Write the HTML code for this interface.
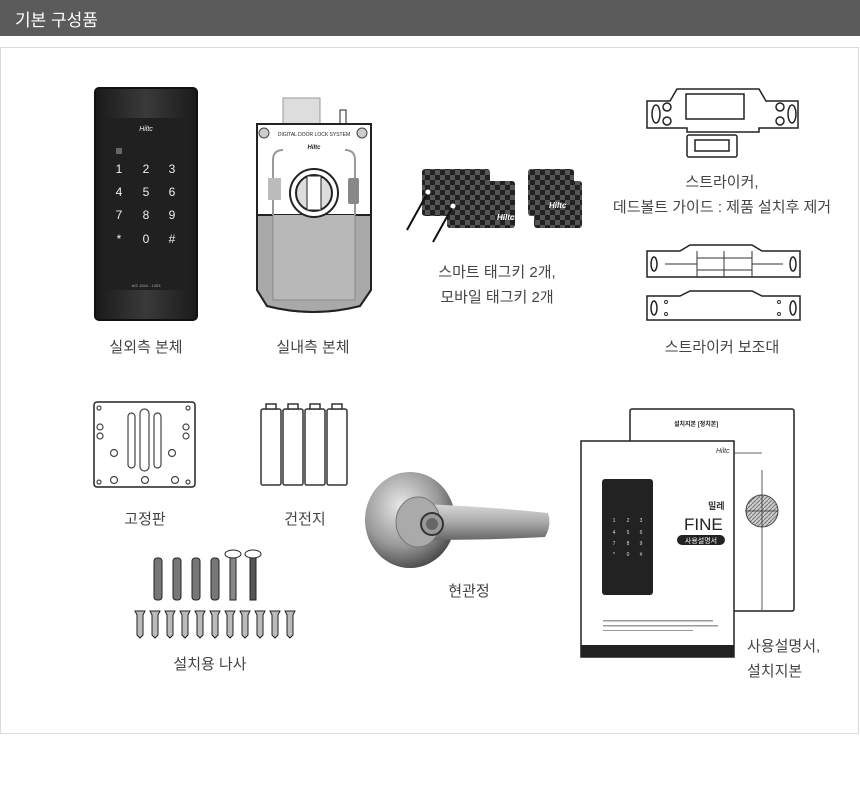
<!DOCTYPE html>
<html><head><meta charset="utf-8">
<style>
html,body{margin:0;padding:0;background:#fff;}
body{width:860px;height:791px;overflow:hidden;position:relative;font-family:"Liberation Sans","Noto Sans CJK KR",sans-serif;}
.hd{position:absolute;left:0;top:0;width:860px;height:36px;background:#5b5b5b;}
.hd span{position:absolute;left:15px;top:6px;color:#fff;font-size:17px;font-family:"Liberation Sans","Noto Sans CJK KR",sans-serif;}
.box{position:absolute;left:0;top:47px;width:857px;height:685px;border:1px solid #dadada;}
svg{position:absolute;left:0;top:0;}
.l{font-family:"Liberation Sans","Noto Sans CJK KR",sans-serif;font-size:15px;fill:#444;}
</style></head><body>
<div class="hd"><span>기본 구성품</span></div>
<div class="box"></div>
<svg width="860" height="791" viewBox="0 0 860 791">
<defs>
<linearGradient id="lk" x1="0" x2="1"><stop offset="0" stop-color="#1a1a1a"/><stop offset=".5" stop-color="#3a3a3a"/><stop offset="1" stop-color="#1a1a1a"/></linearGradient>
<radialGradient id="kn" cx=".4" cy=".35" r=".7"><stop offset="0" stop-color="#e8e8e8"/><stop offset=".6" stop-color="#999"/><stop offset="1" stop-color="#444"/></radialGradient>
<linearGradient id="lv" x1="0" y1="0" x2="0" y2="1"><stop offset="0" stop-color="#d8d8d8"/><stop offset=".5" stop-color="#aaa"/><stop offset="1" stop-color="#666"/></linearGradient>
<pattern id="ck" width="10" height="10" patternUnits="userSpaceOnUse"><rect width="10" height="10" fill="#555"/><rect width="5" height="5" fill="#222"/><rect x="5" y="5" width="5" height="5" fill="#222"/></pattern>
<pattern id="ht" width="4" height="4" patternUnits="userSpaceOnUse"><rect width="4" height="4" fill="#ccc"/><path d="M0 4L4 0" stroke="#777" stroke-width="1"/></pattern>
</defs>

<rect x="95" y="88" width="102" height="232" rx="4" fill="url(#lk)" stroke="#111" stroke-width="2"/>
<rect x="103" y="118" width="86" height="172" fill="#202020"/>
<g fill="#eee" font-size="12" font-family="Liberation Sans,sans-serif" text-anchor="middle">
<text x="119" y="173">1</text><text x="146" y="173">2</text><text x="172" y="173">3</text>
<text x="119" y="196">4</text><text x="146" y="196">5</text><text x="172" y="196">6</text>
<text x="119" y="219">7</text><text x="146" y="219">8</text><text x="172" y="219">9</text>
<text x="119" y="243">*</text><text x="146" y="243">0</text><text x="172" y="243">#</text>
<text x="146" y="131" font-size="7" font-style="italic">Hiltc</text>
<text x="146" y="287" font-size="4" fill="#aaa">A/S 1544 - 1303</text>
</g>
<rect x="116" y="148" width="6" height="6" fill="#666"/>

<rect x="283" y="98" width="37" height="30" fill="#ddd" stroke="#999"/>
<rect x="340" y="110" width="6" height="16" fill="#fff" stroke="#222"/>
<path d="M257 124H371V290L360 306Q313 318 267 306L257 290Z" fill="#fff" stroke="#222" stroke-width="2"/>
<path d="M257 215H371V290L360 306Q313 318 267 306L257 290Z" fill="#a9a9a9" stroke="#222" stroke-width="2"/>
<path d="M273 215V300H355V215" fill="#b8b8b8" stroke="#888"/>
<path d="M273 215V160Q273 150 283 150M355 215V160Q355 150 345 150" fill="none" stroke="#999" stroke-width="2"/>
<circle cx="314" cy="193" r="24" fill="#fff" stroke="#222" stroke-width="2"/>
<circle cx="314" cy="193" r="18" fill="#ddd" stroke="#222" stroke-width="2"/>
<rect x="307" y="176" width="14" height="34" fill="#fff" stroke="#222"/>
<circle cx="264" cy="133" r="5" fill="#ccc" stroke="#444"/><circle cx="362" cy="133" r="5" fill="#ccc" stroke="#444"/>
<text x="314" y="136" font-size="5" text-anchor="middle" font-family="Liberation Sans,sans-serif" fill="#222">DIGITAL DOOR LOCK SYSTEM</text>
<text x="314" y="149" font-size="6" font-style="italic" text-anchor="middle" font-family="Liberation Sans,sans-serif" fill="#222" font-weight="bold">Hiltc</text>
<rect x="268" y="178" width="13" height="22" fill="#bbb"/><rect x="348" y="178" width="11" height="26" fill="#888" rx="2"/>

<rect x="422" y="169" width="68" height="47" rx="3" fill="url(#ck)"/>
<rect x="447" y="181" width="68" height="47" rx="3" fill="url(#ck)"/>
<rect x="528" y="169" width="46" height="47" rx="3" fill="url(#ck)"/>
<rect x="534" y="181" width="48" height="47" rx="3" fill="url(#ck)"/>
<path d="M428 192L407 230M453 206L433 242" stroke="#111" stroke-width="2" fill="none"/>
<circle cx="428" cy="192" r="2.5" fill="#fff"/><circle cx="453" cy="206" r="2.5" fill="#fff"/>
<text x="497" y="220" font-size="8" font-style="italic" fill="#fff" font-weight="bold" font-family="Liberation Sans,sans-serif">Hiltc</text>
<text x="549" y="208" font-size="8" font-style="italic" fill="#fff" font-weight="bold" font-family="Liberation Sans,sans-serif">Hiltc</text>

<g fill="#fff" stroke="#222" stroke-width="1.5">
<path d="M647 101H670L677 89H759L766 101H798V128H759V132H687V128H647Z"/>
<rect x="687" y="135" width="50" height="22" rx="2"/>
<rect x="695" y="140" width="34" height="11"/>
<rect x="686" y="94" width="58" height="25"/>
<ellipse cx="656" cy="114" rx="4" ry="9"/><ellipse cx="792" cy="114" rx="4" ry="9"/>
<circle cx="667" cy="107" r="4"/><circle cx="667" cy="121" r="4"/><circle cx="780" cy="107" r="4"/><circle cx="780" cy="121" r="4"/>
</g>

<g fill="#fff" stroke="#222" stroke-width="1.5">
<path d="M647 251H680L690 245H752L762 251H800V277H647Z"/>
<path d="M647 296H680L690 291H752L762 296H800V320H647Z"/>
<ellipse cx="654" cy="264" rx="3" ry="7"/><ellipse cx="793" cy="264" rx="3" ry="7"/>
<ellipse cx="654" cy="308" rx="3" ry="7"/><ellipse cx="793" cy="308" rx="3" ry="7"/>
</g>
<g fill="none" stroke="#333" stroke-width="1">
<path d="M697 251V277M724 251V277M752 251V277M697 258H752M697 270H752M665 264H697M752 264H783"/>
<circle cx="666" cy="302" r="1.5"/><circle cx="666" cy="314" r="1.5"/><circle cx="779" cy="302" r="1.5"/><circle cx="779" cy="314" r="1.5"/>
</g>

<rect x="94" y="402" width="101" height="85" rx="3" fill="#fff" stroke="#222" stroke-width="1.5"/>
<g fill="none" stroke="#444" stroke-width="1.2">
<rect x="128" y="413" width="7" height="55" rx="3.5"/><rect x="140" y="409" width="9" height="62" rx="4.5"/><rect x="154" y="413" width="7" height="55" rx="3.5"/>
<circle cx="99" cy="408" r="2"/><circle cx="188" cy="408" r="2"/><circle cx="99" cy="482" r="2"/><circle cx="188" cy="482" r="2"/>
<circle cx="100" cy="427" r="3"/><circle cx="100" cy="436" r="3"/><circle cx="186" cy="427" r="3"/><circle cx="186" cy="436" r="3"/>
<circle cx="114" cy="453" r="3.5"/><circle cx="172" cy="453" r="3.5"/><circle cx="114" cy="480" r="3.5"/><circle cx="145" cy="480" r="3.5"/><circle cx="175" cy="480" r="3.5"/>
</g>
<g fill="#fff" stroke="#333" stroke-width="1.5">
<rect x="261" y="409" width="20" height="76" rx="2"/><rect x="283" y="409" width="20" height="76" rx="2"/>
<rect x="305" y="409" width="20" height="76" rx="2"/><rect x="327" y="409" width="20" height="76" rx="2"/>
<rect x="266" y="404" width="10" height="5"/><rect x="288" y="404" width="10" height="5"/><rect x="310" y="404" width="10" height="5"/><rect x="332" y="404" width="10" height="5"/>
</g>

<g stroke="#222" stroke-width="1">
<rect x="154" y="558" width="8" height="42" rx="3" fill="#777"/><rect x="173" y="558" width="8" height="42" rx="3" fill="#777"/>
<rect x="192" y="558" width="8" height="42" rx="3" fill="#777"/><rect x="211" y="558" width="8" height="42" rx="3" fill="#777"/>
<rect x="230" y="555" width="6" height="45" fill="#888"/><rect x="250" y="555" width="6" height="45" fill="#555"/>
<ellipse cx="233" cy="554" rx="8" ry="4" fill="#fff"/><ellipse cx="253" cy="554" rx="8" ry="4" fill="#fff"/>
</g>
<g fill="#bbb" stroke="#222" stroke-width="1">
<path d="M135 611h10l-2 4v20l-3 3l-3-3v-20z"/><path d="M150 611h10l-2 4v20l-3 3l-3-3v-20z"/><path d="M165 611h10l-2 4v20l-3 3l-3-3v-20z"/>
<path d="M180 611h10l-2 4v20l-3 3l-3-3v-20z"/><path d="M195 611h10l-2 4v20l-3 3l-3-3v-20z"/><path d="M210 611h10l-2 4v20l-3 3l-3-3v-20z"/>
<path d="M225 611h10l-2 4v20l-3 3l-3-3v-20z"/><path d="M240 611h10l-2 4v20l-3 3l-3-3v-20z"/><path d="M255 611h10l-2 4v20l-3 3l-3-3v-20z"/>
<path d="M270 611h10l-2 4v20l-3 3l-3-3v-20z"/><path d="M285 611h10l-2 4v20l-3 3l-3-3v-20z"/>
</g>

<ellipse cx="410" cy="520" rx="45" ry="48" fill="url(#kn)"/>
<path d="M420 504Q480 506 548 513Q552 525 545 537Q490 540 425 540Z" fill="url(#lv)"/>
<ellipse cx="418" cy="522" rx="22" ry="25" fill="#aaa" stroke="#777"/>
<circle cx="432" cy="524" r="11" fill="#999" stroke="#333" stroke-width="2"/>
<circle cx="432" cy="524" r="6" fill="#666"/>

<rect x="630" y="409" width="164" height="202" rx="2" fill="#fff" stroke="#222" stroke-width="1.5"/>
<circle cx="762" cy="511" r="16" fill="url(#ht)" stroke="#444"/>
<path d="M762 470V610M700 453H762M745 511H778" stroke="#333" stroke-width="0.8" fill="none"/>
<text x="674" y="426" font-size="6" font-weight="bold" fill="#222" font-family="Liberation Sans,Noto Sans CJK KR,sans-serif">설치지본 [정치본]</text>
<rect x="581" y="441" width="153" height="216" fill="#fff" stroke="#222" stroke-width="1.5"/>
<rect x="581" y="645" width="153" height="12" fill="#222"/>
<rect x="602" y="479" width="51" height="116" rx="3" fill="#222"/>
<g fill="#ddd" font-size="5" text-anchor="middle" font-family="Liberation Sans,sans-serif">
<text x="614" y="522">1</text><text x="628" y="522">2</text><text x="641" y="522">3</text>
<text x="614" y="534">4</text><text x="628" y="534">5</text><text x="641" y="534">6</text>
<text x="614" y="545">7</text><text x="628" y="545">8</text><text x="641" y="545">9</text>
<text x="614" y="556">*</text><text x="628" y="556">0</text><text x="641" y="556">#</text>
</g>
<text x="684" y="530" font-size="17" fill="#222" font-family="Liberation Sans,sans-serif">FINE</text>
<rect x="677" y="535" width="48" height="10" rx="5" fill="#222"/>
<text x="701" y="543" font-size="7" fill="#fff" text-anchor="middle" font-family="Liberation Sans,Noto Sans CJK KR,sans-serif">사용설명서</text>
<text x="708" y="509" font-size="9" fill="#333" font-weight="bold" font-family="Liberation Sans,Noto Sans CJK KR,sans-serif">밀레</text>
<text x="716" y="453" font-size="7" font-style="italic" fill="#333" font-family="Liberation Sans,sans-serif">Hiltc</text>
<g fill="#999"><rect x="603" y="620" width="110" height="1.5"/><rect x="603" y="625" width="115" height="1.5"/><rect x="603" y="630" width="90" height="1"/></g>

<g class="l" text-anchor="middle">
<text x="146" y="352">실외측 본체</text>
<text x="313" y="352">실내측 본체</text>
<text x="497" y="277">스마트 태그키 2개,</text>
<text x="497" y="302">모바일 태그키 2개</text>
<text x="722" y="187">스트라이커,</text>
<text x="722" y="212">데드볼트 가이드 : 제품 설치후 제거</text>
<text x="722" y="352">스트라이커 보조대</text>
<text x="145" y="524">고정판</text>
<text x="305" y="524">건전지</text>
<text x="210" y="669">설치용 나사</text>
<text x="469" y="596">현관정</text>
</g>
<text class="l" x="747" y="651">사용설명서,</text>
<text class="l" x="747" y="676">설치지본</text>
</svg>
</body></html>
